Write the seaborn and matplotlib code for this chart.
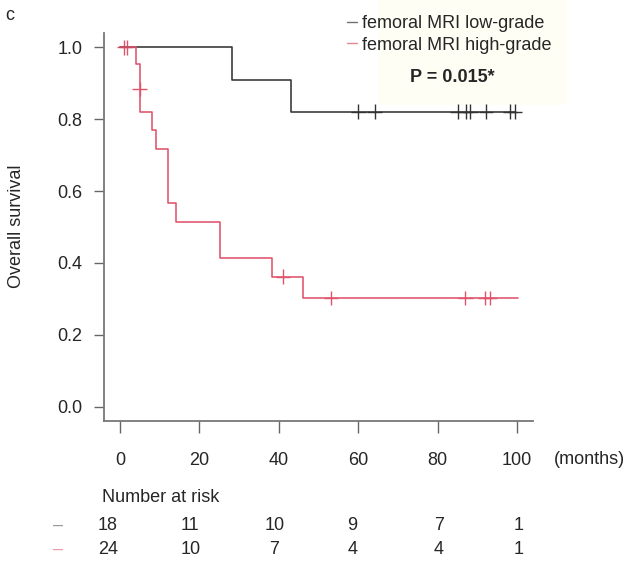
import numpy as np
import pandas as pd
import matplotlib
matplotlib.use("Agg")
import matplotlib.pyplot as plt
import matplotlib.transforms as mtransforms
from matplotlib.patches import Rectangle
import seaborn as sns

# curvas de Kaplan-Meier
grupos = ['femoral MRI low-grade', 'femoral MRI high-grade']

tempo_baixo = [0, 28.2, 43.2, 99.5]
surv_baixo = [1.0, 0.910, 0.821, 0.821]

tempo_alto = [0, 4.0, 5.0, 8.2, 9.0, 12.0, 14.2, 25.1, 38.2, 46.1, 100.2]
surv_alto = [1.0, 0.954, 0.821, 0.769, 0.718, 0.566, 0.515, 0.414, 0.362, 0.302, 0.302]

# censuras
cens_tempo_baixo = [60.0, 64.1, 85.0, 87.1, 88.2, 92.2, 98.2, 99.5]
cens_surv_baixo = [0.821] * 8
cens_tempo_alto = [1.1, 1.9, 5.0, 41.1, 53.2, 87.0, 92.0, 93.2]
cens_surv_alto = [1.0, 1.0, 0.884, 0.362, 0.302, 0.302, 0.302, 0.302]

# tabela de risco
tempos_risco = [0, 20, 40, 60, 80, 100]
risco_baixo = [18, 11, 10, 9, 7, 1]
risco_alto = [24, 10, 7, 4, 4, 1]

cores = ['#333333', '#DF536B']

sns.set_style("ticks")
plt.rcParams['font.family'] = ['Liberation Sans', 'DejaVu Sans']

W, H = 627, 562
fig = plt.figure(figsize=(W / 100, H / 100), dpi=100)
ax = fig.add_axes([104 / W, 1 - 421 / H, (533 - 104) / W, (421 - 33) / H])
ax.patch.set_alpha(0)

# fundo creme atrás do valor de P
fig.patches.append(Rectangle((378 / W, 1 - 105 / H), (567 - 378) / W, 105 / H,
                             transform=fig.transFigure, facecolor='#FEFEF5',
                             edgecolor='none', zorder=-5))

curvas = pd.concat([
    pd.DataFrame({'tempo': tempo_baixo, 'surv': surv_baixo, 'grupo': grupos[0]}),
    pd.DataFrame({'tempo': tempo_alto, 'surv': surv_alto, 'grupo': grupos[1]}),
])
censuras = pd.concat([
    pd.DataFrame({'tempo': cens_tempo_baixo, 'surv': cens_surv_baixo, 'grupo': grupos[0]}),
    pd.DataFrame({'tempo': cens_tempo_alto, 'surv': cens_surv_alto, 'grupo': grupos[1]}),
])

sns.lineplot(data=curvas, x='tempo', y='surv', hue='grupo', hue_order=grupos,
             palette=cores, estimator=None, drawstyle='steps-post',
             linewidth=1.15, ax=ax)
sns.scatterplot(data=censuras, x='tempo', y='surv', hue='grupo', hue_order=grupos,
                palette=cores, marker='+', s=110, linewidth=1.0, legend=False, ax=ax)

leg = ax.get_legend()
handles = leg.legend_handles
labels = [t.get_text() for t in leg.get_texts()]
leg.remove()
for h in handles:
    h.set_linewidth(1.0)
    h.set_alpha(0.7)
fig.legend(handles, labels, loc='upper left', bbox_to_anchor=(347 / W, 1 - 15 / H),
           frameon=False, borderpad=0, borderaxespad=0, handlelength=0.55,
           handletextpad=0.3, labelspacing=0.25, fontsize=13)

ax.set_xlim(-4, 104)
ax.set_ylim(-0.04, 1.04)
ax.set_xticks(tempos_risco)
ax.set_yticks([0, 0.2, 0.4, 0.6, 0.8, 1.0])
ax.set_yticklabels(['0.0', '0.2', '0.4', '0.6', '0.8', '1.0'])
ax.set_xlabel('')
ax.set_ylabel('')
ax.tick_params(axis='x', length=8.6, width=1.0, color='#666666', pad=14, labelsize=13)
ax.tick_params(axis='y', length=7.5, width=1.0, color='#666666', pad=8, labelsize=13)
sns.despine(ax=ax)
for lado in ['left', 'bottom']:
    ax.spines[lado].set_color('#777777')
    ax.spines[lado].set_linewidth(1.3)

fig.text(452 / W, 1 - 77 / H, 'P = 0.015*', ha='center', va='center',
         fontsize=13, fontweight='bold')
fig.text(10 / W, 1 - 15 / H, 'c', ha='center', va='center', fontsize=13)
fig.text(17 / W, 1 - 226 / H, 'Overall survival', rotation=90, ha='center',
         va='center', fontsize=13)

# tabela "Number at risk"
trans = mtransforms.blended_transform_factory(ax.transData, fig.transFigure)
ax.text((553 - 120) / 3.96, 1 - 460 / H, '(months)', transform=trans,
        ha='left', va='center', fontsize=13)
fig.text(102 / W, 1 - 497 / H, 'Number at risk', ha='left', va='center', fontsize=13)
desloc = [-3, -2.3, -1.1, -1.4, 0.3, 0.5]
for linha, valores, cor in [(525, risco_baixo, '#999999'), (549, risco_alto, '#EE9AA8')]:
    fig.text(58 / W, 1 - linha / H, '–', ha='center', va='center', fontsize=13, color=cor)
    for t, v, d in zip(tempos_risco, valores, desloc):
        ax.text(t + d, 1 - linha / H, str(v), transform=trans, ha='center',
                va='center', fontsize=13)

fig.savefig('out.png', dpi=100, facecolor='white')
